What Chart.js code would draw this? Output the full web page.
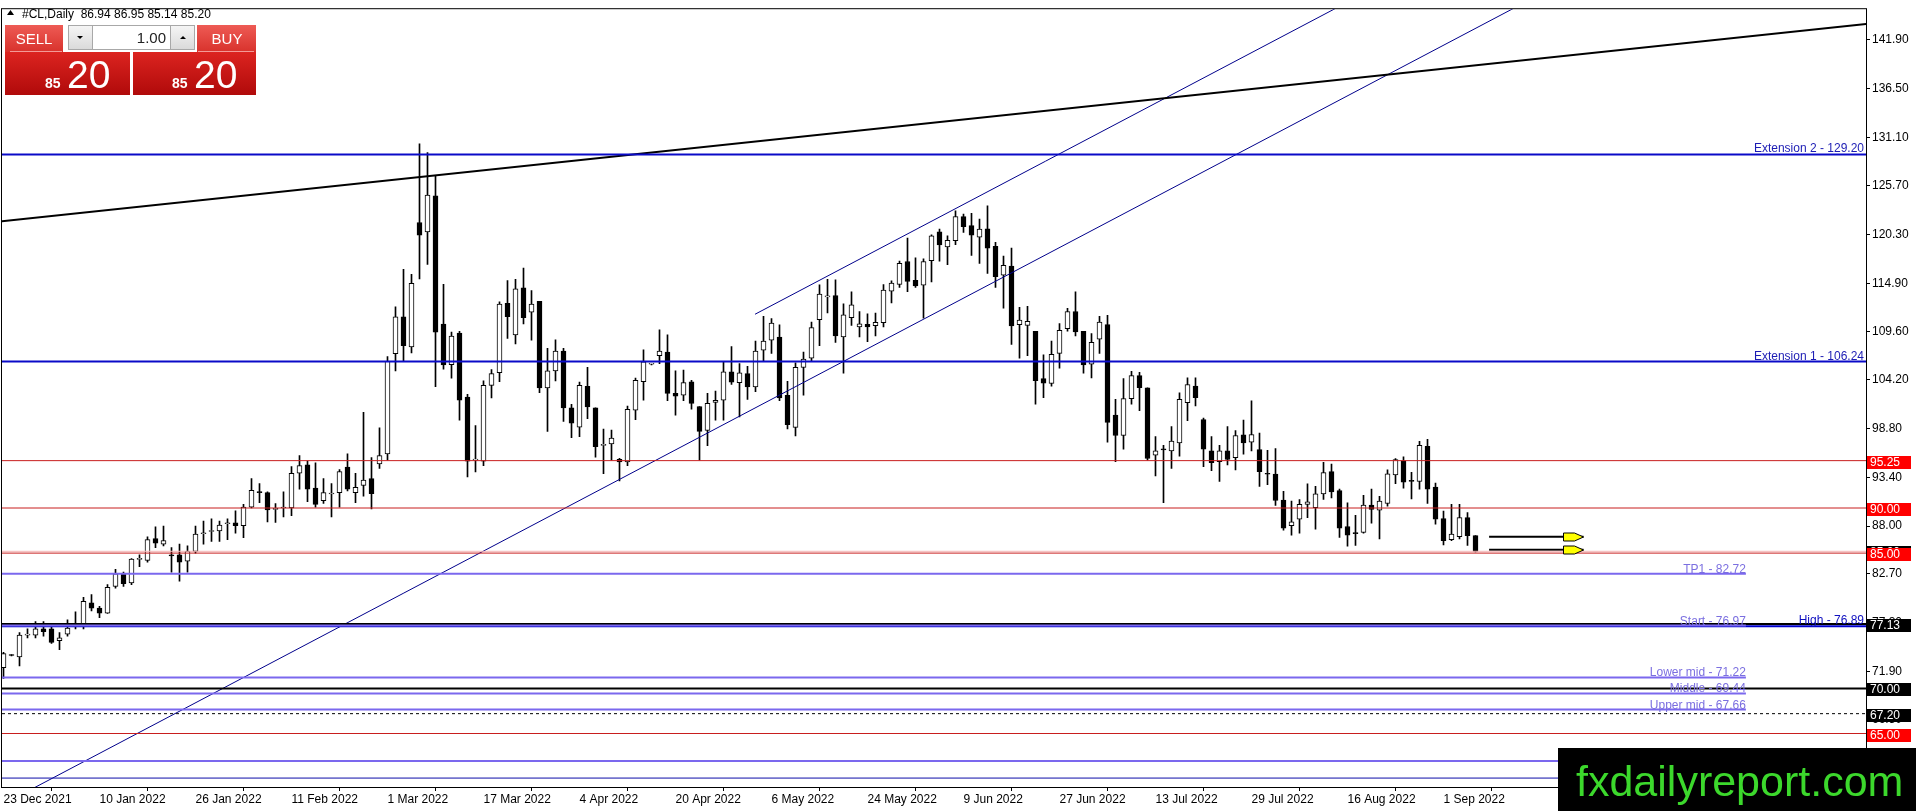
<!DOCTYPE html>
<html>
<head>
<meta charset="utf-8">
<script src="https://cdn.jsdelivr.net/npm/chart.js@4.4.0/dist/chart.umd.min.js"></script>
<style>
  html, body { margin: 0; padding: 0; background: #fff; overflow: hidden; }
  #wrap { position: relative; width: 1916px; height: 811px; }
</style>
</head>
<body>
<div id="wrap"><canvas id="chart" width="1916" height="811"></canvas></div>
<script>
// ---- data (#CL daily, 23 Dec 2021 .. 7 Sep 2022) ----
const dateLabels = ['23 Dec 2021','10 Jan 2022','26 Jan 2022','11 Feb 2022','1 Mar 2022','17 Mar 2022',
  '4 Apr 2022','20 Apr 2022','6 May 2022','24 May 2022','9 Jun 2022','27 Jun 2022','13 Jul 2022',
  '29 Jul 2022','16 Aug 2022','1 Sep 2022'];
const barsPerLabel = 12;

const opens = [72.3,73.7,73.5,75.9,75.9,76.6,76.6,75.3,76.0,76.85,77.1,79.5,78.9,78.35,81.3,82.7,81.7,84.3,84.2,86.6,
  86.0,84.8,84.8,84.1,85.2,87.15,87.4,87.45,88.25,88.35,88.05,90.1,91.8,91.7,89.85,90.0,90.0,93.85,94.8,92.2,
  90.8,91.55,91.7,94.55,91.7,92.5,93.25,94.9,96.0,107.1,111.2,107.85,121.65,120.6,124.6,110.4,105.9,109.4,102.3,95.3,
  95.2,103.6,105.0,112.7,109.2,114.4,111.7,112.9,103.3,105.2,107.4,101.1,98.95,103.5,101.1,96.95,97.1,95.4,95.1,100.85,
  104.0,105.95,106.9,107.3,102.7,102.5,104.0,101.25,98.6,101.7,101.95,105.1,103.9,104.9,103.43,107.5,108.6,108.94,102.5,98.94,
  105.58,106.6,110.87,113.4,113.54,108.98,111.1,110.07,110.36,110.22,110.55,114.05,114.78,117.33,115.25,114.71,117.41,120.62,118.94,119.64,
  122.3,121.31,120.04,120.95,119.01,115.8,116.82,110.33,110.25,109.6,104.34,103.8,107.15,109.89,111.79,109.6,105.95,108.72,110.33,100.3,
  98.04,102.12,104.67,103.33,95.86,96.55,96.33,97.21,101.69,103.51,99.79,96.33,95.13,96.33,95.57,98.12,97.31,96.48,93.82,93.75,
  90.87,88.03,88.75,90.4,90.03,91.56,94.04,91.92,87.95,87.24,87.3,90.32,89.77,90.5,93.67,95.24,93.05,92.94,96.84,92.32,
  88.83,86.5,86.82,88.94,86.94];
const highs = [74.0,73.75,76.2,76.6,77.4,77.4,76.8,76.2,77.6,78.5,80.1,80.4,79.1,81.5,83.2,82.9,84.4,84.8,86.8,87.9,
  88.0,85.6,86.0,85.8,88.0,88.55,88.8,88.55,88.8,89.7,90.4,93.25,92.7,91.8,90.5,91.8,94.6,95.8,95.2,95.0,
  93.25,92.7,94.25,96.0,93.85,100.6,95.6,98.9,106.8,112.3,116.45,115.9,130.37,129.4,126.8,114.8,109.5,109.6,102.6,99.13,
  104.1,105.35,112.86,115.2,115.35,116.6,114.1,112.9,107.7,108.65,107.7,101.5,103.95,105.6,101.1,98.75,98.65,95.5,101.3,104.4,
  107.55,106.05,109.75,109.2,105.2,105.3,104.15,101.25,102.7,102.97,106.2,107.9,106.0,105.7,108.5,111.24,111.0,110.3,104.05,106.1,
  107.3,110.6,114.74,115.36,115.29,112.63,113.98,111.79,111.53,111.6,114.78,115.18,117.37,119.93,117.74,117.63,120.29,120.91,120.18,122.96,
  122.59,122.66,122.04,123.5,119.45,117.92,118.83,112.26,112.37,109.6,106.97,108.5,110.44,112.15,113.98,109.6,109.34,111.24,111.35,102.05,
  104.35,105.15,105.04,103.33,97.93,96.95,99.03,102.78,104.42,104.42,99.97,97.93,96.95,99.03,98.59,99.76,101.87,98.3,96.4,96.59,
  91.85,90.76,90.94,92.69,92.4,95.06,94.88,92.1,90.58,89.19,91.41,92.1,91.3,94.22,95.49,95.68,93.96,97.39,97.61,92.76,
  89.66,90.4,90.4,89.48,86.95];
const lows = [71.1,73.6,72.5,75.6,75.6,75.8,75.0,74.3,75.8,76.6,76.6,78.6,77.85,78.3,81.1,81.3,81.5,83.5,84.0,85.6,
  85.8,82.9,81.9,82.9,85.0,86.0,86.3,86.3,86.5,87.2,86.7,90.0,90.6,88.45,88.4,89.0,89.15,92.1,90.7,90.1,
  90.5,89.0,90.1,91.9,90.6,91.3,89.9,94.4,95.3,105.2,106.3,107.2,115.4,117.0,103.45,105.4,104.4,99.75,93.45,94.0,
  94.7,102.2,104.0,108.8,108.2,110.4,108.6,102.8,98.5,104.1,99.6,97.8,97.9,99.9,95.65,93.8,95.3,93.0,94.7,99.8,
  101.95,105.85,106.0,101.9,100.3,101.9,100.96,95.3,96.9,99.75,99.75,103.7,100.1,102.04,102.9,106.3,107.15,101.9,98.76,98.0,
  102.5,106.24,107.99,111.64,108.36,104.96,110.25,108.98,108.43,109.09,110.07,112.74,114.45,113.98,114.45,111.06,115.07,117.37,116.97,119.2,
  120.55,117.99,117.12,116.0,114.45,112.16,108.14,106.6,106.9,101.5,102.23,103.5,105.5,109.6,109.09,104.96,104.41,107.15,97.3,95.13,
  96.51,101.5,100.78,95.31,93.56,90.58,94.4,95.75,99.68,101.32,94.58,94.15,92.94,94.77,94.22,95.97,96.33,92.4,92.58,90.28,
  87.55,87.0,87.22,88.94,87.66,90.94,91.12,86.75,85.77,85.84,87.22,88.32,86.57,90.21,92.69,92.21,91.01,92.1,90.5,88.21,
  85.91,86.39,86.57,85.84,85.14];
const closes = [73.85,73.65,75.9,75.95,76.6,76.3,75.1,75.6,76.7,76.95,79.65,78.9,78.35,81.2,82.7,81.6,84.35,84.35,86.5,86.1,
  86.4,84.7,84.0,85.2,87.1,87.25,87.5,88.1,88.35,88.05,90.1,91.95,91.7,89.8,89.95,90.1,93.85,94.7,92.1,90.4,
  91.7,91.65,94.05,92.1,92.3,93.1,91.6,95.8,106.27,111.2,108.0,114.9,120.26,124.7,109.5,105.85,109.05,101.95,95.2,95.4,
  103.6,104.9,112.6,111.2,114.3,111.1,112.6,103.3,105.2,107.4,101.1,99.4,103.6,101.2,96.8,97.05,97.75,95.1,100.95,104.15,
  106.2,106.0,107.4,102.7,102.4,103.9,101.6,98.5,101.6,101.95,105.1,103.96,105.0,103.43,107.4,108.5,110.5,102.2,99.23,105.6,
  106.5,110.0,113.72,113.5,109.09,111.42,112.52,110.43,110.07,110.58,114.16,114.93,117.12,115.11,114.63,117.33,120.18,119.16,119.67,122.3,
  121.2,120.26,120.91,118.8,115.66,116.9,110.18,110.84,110.69,104.12,103.83,107.04,109.7,111.79,109.53,105.87,108.36,110.62,99.49,98.04,
  102.12,104.67,103.33,95.49,96.33,96.45,97.42,102.05,103.69,102.23,96.51,95.02,96.33,95.38,98.04,97.21,98.15,94.04,93.74,90.83,
  87.77,88.46,90.4,90.69,91.56,93.93,91.78,87.77,87.0,87.16,90.32,89.85,90.76,93.78,95.38,92.87,92.95,96.95,92.1,88.75,
  86.39,87.12,88.94,86.93,85.20];

const priceTicks = [141.90,136.50,131.10,125.70,120.30,114.90,109.60,104.20,98.80,93.40,88.00,82.70,77.30,71.90,66.50,61.10];

// drawn levels and objects (prices)
const extensionNames = ['Extension 2', 'Extension 1'];
const extensionValues = [129.20, 106.24];
const fibNames = ['TP1', 'Start', 'Lower mid', 'Middle', 'Upper mid', ''];
const fibValues = [82.72, 76.97, 71.22, 69.44, 67.66, 61.96];
const redLevels = [95.25, 90.00, 85.00, 65.00];
const blackLevels = [77.13, 70.00];
const dashedLevel = 67.20;
const highLevel = 76.89;
const lowBlueLevel = 60.06;
const bidPrice = 85.20;
const arrowValues = [86.82, 85.38];
const arrowBars = [185.7, 197.5];
const fibEndBar = 217.8;
const trendBars = [-0.2, 233];
const trendPrices = [121.80, 143.68];
const lowerChannelBars = [0, 200];
const lowerChannelPrices = [57.19, 150.65];
const upperChannelBars = [93.94, 200];
const upperChannelPrices = [111.48, 161.04];

// ---- build datasets ----
const FONT = "'Liberation Sans', Arial, sans-serif";
const idx = opens.map((_, i) => i);
const wickData = idx.map(i => ({ x: i, y: [lows[i], highs[i]] }));
const bodyData = idx.map(i => ({ x: i, y: [Math.min(opens[i], closes[i]), Math.max(opens[i], closes[i])] }));
const bodyColors = idx.map(i => closes[i] >= opens[i] ? '#ffffff' : '#000000');

const xLeft = -0.1875, xRight = 232.8125;

function hline(v, color, width, end, dash) {
  return { type: 'line', data: [{ x: xLeft, y: v }, { x: end, y: v }], borderColor: color,
    borderWidth: width, borderDash: dash || [], pointRadius: 0, order: 0, fill: false };
}
function seg(bars, prices, color, width) {
  return { type: 'line', data: bars.map((b, k) => ({ x: b, y: prices[k] })), borderColor: color,
    borderWidth: width, pointRadius: 0, order: 0, fill: false };
}

const lineSets = [];
lineSets.push(hline(bidPrice, '#f4b4b4', 1, xRight));
redLevels.forEach(v => lineSets.push(hline(v, '#c81e1e', 1, xRight)));
fibValues.forEach(v => lineSets.push(hline(v, '#7b68ee', 2, fibEndBar)));
extensionValues.forEach(v => lineSets.push(hline(v, '#0a0ac8', 2, xRight)));
lineSets.push(hline(highLevel, '#0000cd', 2, xRight));
lineSets.push(hline(lowBlueLevel, '#0c0ca8', 1, xRight));
blackLevels.forEach(v => lineSets.push(hline(v, '#000000', 2, xRight)));
lineSets.push(hline(dashedLevel, '#000000', 1, xRight, [3, 3]));
lineSets.push(seg(trendBars, trendPrices, '#000000', 2));
lineSets.push(seg(lowerChannelBars, lowerChannelPrices, '#00008b', 1));
lineSets.push(seg(upperChannelBars, upperChannelPrices, '#00008b', 1));
arrowValues.forEach(v => lineSets.push(seg(arrowBars, [v, v], '#000000', 2)));

// ---- overlay drawing: texts, axis boxes, panel, watermark ----
const overlay = {
  id: 'overlay',
  afterDatasetsDraw(chart) {
    const { ctx, chartArea: a, scales: { x, y } } = chart;
    ctx.save();
    ctx.font = '12px ' + FONT;
    ctx.textBaseline = 'alphabetic';
    ctx.textAlign = 'right';
    extensionValues.forEach((v, k) => {
      ctx.fillStyle = '#1c1cb4';
      ctx.fillText(extensionNames[k] + ' - ' + v.toFixed(2), a.right - 2, y.getPixelForValue(v) - 2);
    });
    fibValues.forEach((v, k) => {
      if (!fibNames[k]) return;
      ctx.fillStyle = '#7b6fe0';
      ctx.fillText(fibNames[k] + ' - ' + v.toFixed(2), x.getPixelForValue(fibEndBar), y.getPixelForValue(v) - 1);
    });
    ctx.fillStyle = '#1010c0';
    ctx.fillText('High - ' + highLevel.toFixed(2), a.right - 2, y.getPixelForValue(highLevel) - 2);

    // arrow heads
    arrowValues.forEach(v => {
      const px = x.getPixelForValue(arrowBars[1]);
      const py = Math.round(y.getPixelForValue(v));
      ctx.beginPath();
      ctx.moveTo(px - 20, py - 4);
      ctx.lineTo(px - 9, py - 4);
      ctx.lineTo(px, py);
      ctx.lineTo(px - 9, py + 4);
      ctx.lineTo(px - 20, py + 4);
      ctx.closePath();
      ctx.fillStyle = '#ffff00';
      ctx.fill();
      ctx.strokeStyle = '#000';
      ctx.lineWidth = 1;
      ctx.stroke();
    });
    ctx.restore();
  },
  afterDraw(chart) {
    const { ctx, chartArea: a, scales: { y } } = chart;
    ctx.save();
    // frame
    ctx.strokeStyle = '#000';
    ctx.lineWidth = 1;
    ctx.strokeRect(a.left - 0.5, a.top - 0.5, a.right - a.left + 1, a.bottom - a.top + 1);

    // price boxes on axis
    ctx.font = '12px ' + FONT;
    ctx.textAlign = 'left';
    ctx.textBaseline = 'middle';
    const box = (v, color) => {
      const py = Math.round(y.getPixelForValue(v));
      ctx.fillStyle = color;
      ctx.fillRect(a.right + 1, py - 5, 44, 13);
      ctx.fillStyle = '#fff';
      ctx.fillText(v.toFixed(2), a.right + 4, py + 2);
    };
    box(bidPrice, '#000');
    redLevels.forEach(v => box(v, '#ff0000'));
    blackLevels.forEach(v => box(v, '#000'));
    box(dashedLevel, '#000');

    // header
    ctx.fillStyle = '#000';
    ctx.beginPath();
    ctx.moveTo(7, 15); ctx.lineTo(10.5, 10); ctx.lineTo(14, 15); ctx.closePath(); ctx.fill();
    ctx.textBaseline = 'alphabetic';
    ctx.fillText('#CL,Daily  86.94 86.95 85.14 85.20', 22, 18);

    // one-click trading panel
    const grad = (y0, y1, c0, c1) => { const g = ctx.createLinearGradient(0, y0, 0, y1); g.addColorStop(0, c0); g.addColorStop(1, c1); return g; };
    ctx.fillStyle = grad(25, 52, '#ee5b55', '#d8322c');
    ctx.fillRect(5, 25, 58, 27);
    ctx.fillRect(197, 25, 59, 27);
    ctx.fillStyle = grad(52, 95, '#dc2420', '#b00a0a');
    ctx.fillRect(5, 52, 125, 43);
    ctx.fillRect(133, 52, 123, 43);
    ctx.strokeStyle = '#f39a96';
    ctx.beginPath(); ctx.moveTo(10, 51.5); ctx.lineTo(62, 51.5); ctx.moveTo(198, 51.5); ctx.lineTo(254, 51.5); ctx.stroke();
    ctx.fillStyle = grad(25, 50, '#f6f6f6', '#d9d9d9');
    ctx.fillRect(68, 25, 25, 25);
    ctx.fillRect(171, 25, 24, 25);
    ctx.fillStyle = '#fff';
    ctx.fillRect(93, 25, 78, 25);
    ctx.strokeStyle = '#a8a8a8';
    ctx.strokeRect(68.5, 25.5, 126, 24);
    ctx.beginPath(); ctx.moveTo(92.5, 25); ctx.lineTo(92.5, 50); ctx.moveTo(170.5, 25); ctx.lineTo(170.5, 50); ctx.stroke();
    ctx.fillStyle = '#000';
    ctx.beginPath(); ctx.moveTo(77, 36); ctx.lineTo(83, 36); ctx.lineTo(80, 39); ctx.closePath(); ctx.fill();
    ctx.beginPath(); ctx.moveTo(180, 39); ctx.lineTo(186, 39); ctx.lineTo(183, 36); ctx.closePath(); ctx.fill();
    ctx.font = '15px ' + FONT;
    ctx.textAlign = 'right';
    ctx.fillStyle = '#222';
    ctx.fillText('1.00', 166, 43);
    ctx.textAlign = 'center';
    ctx.fillStyle = '#fff';
    ctx.fillText('SELL', 34, 44);
    ctx.fillText('BUY', 227, 44);
    ctx.textAlign = 'left';
    ctx.font = 'bold 14px ' + FONT;
    ctx.fillText('85', 45, 88);
    ctx.fillText('85', 172, 88);
    ctx.font = '39px ' + FONT;
    ctx.fillText('20', 67, 88);
    ctx.fillText('20', 194, 88);

    // watermark
    ctx.fillStyle = '#000';
    ctx.fillRect(1558, 748, 358, 63);
    ctx.fillStyle = '#3cd82c';
    ctx.font = '43px ' + FONT;
    ctx.textAlign = 'left';
    ctx.fillText('fxdailyreport.com', 1576, 796);
    ctx.restore();
  }
};

new Chart(document.getElementById('chart'), {
  type: 'bar',
  data: {
    datasets: [
      ...lineSets,
      { type: 'bar', data: bodyData, backgroundColor: bodyColors, borderColor: '#000', borderWidth: 1,
        borderSkipped: false, barThickness: 5, minBarLength: 1, grouped: false, order: 1 },
      { type: 'bar', data: wickData, backgroundColor: '#000', barThickness: 1, grouped: false, order: 2 }
    ]
  },
  options: {
    responsive: false,
    animation: false,
    devicePixelRatio: 1,
    layout: { padding: { left: 2, top: 2, right: 0, bottom: 0 } },
    plugins: { legend: { display: false }, tooltip: { enabled: false } },
    scales: {
      x: {
        type: 'linear', min: xLeft, max: xRight, offset: false,
        afterBuildTicks(scale) { scale.ticks = dateLabels.map((_, k) => ({ value: k * barsPerLabel })); },
        afterFit(scale) { scale.height = 24; },
        ticks: { align: 'start', maxRotation: 0, autoSkip: false, color: '#000', padding: 1,
          font: { family: FONT, size: 12 },
          callback: v => dateLabels[Math.round(v / barsPerLabel)] },
        grid: { drawOnChartArea: false, drawTicks: true, tickLength: 4, color: '#000' },
        border: { display: true, color: '#000' }
      },
      y: {
        position: 'right', min: 59.07, max: 145.30,
        afterBuildTicks(scale) { scale.ticks = priceTicks.map(v => ({ value: v })); },
        afterFit(scale) { scale.width = 50; },
        ticks: { color: '#000', padding: 2, font: { family: FONT, size: 12 }, callback: v => v.toFixed(2) },
        grid: { drawOnChartArea: false, drawTicks: true, tickLength: 4, color: '#000' },
        border: { display: true, color: '#000' }
      }
    }
  },
  plugins: [overlay]
});
</script>
</body>
</html>
